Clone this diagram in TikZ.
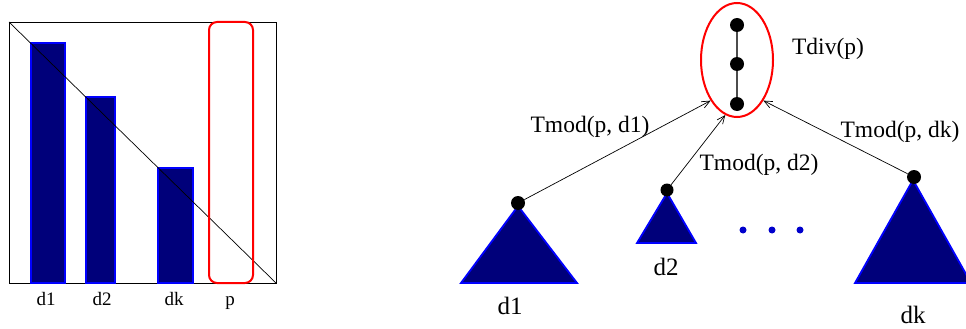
\documentclass[tikz,border=0pt]{standalone}
\usepackage{fontspec}
\setmainfont{Liberation Serif}
\usetikzlibrary{arrows.meta,positioning,shapes.geometric}
\definecolor{barnavy}{RGB}{0,0,122}
\tikzset{
  bar/.style={fill=barnavy,draw=blue,line width=1.4pt},
  subtree/.style={fill=barnavy,draw=blue,line width=1.8pt,line join=miter},
  knot/.style={circle,fill=black,inner sep=0pt,minimum size=14pt},
  moredot/.style={circle,fill=blue!80!black,inner sep=0pt,minimum size=7pt},
  collbl/.style={inner sep=0pt,anchor=base,font=\fontsize{19}{22}\selectfont},
  edgelbl/.style={inner sep=0pt,anchor=base,font=\fontsize{23.5}{27}\selectfont},
  treelbl/.style={inner sep=0pt,font=\fontsize{25}{29}\selectfont},
}

\begin{document}
\begin{tikzpicture}[x=1pt,y=-1pt,>={Straight Barb[length=8pt,width=7pt]}]
\clip (0,0) rectangle (966,329);
% left: columns of the matrix
\draw[line width=0.9pt] (9,22) rectangle (276,283);
\draw[bar] (31,43) rectangle (65,283);
\draw[bar] (86,97) rectangle (115,283);
\draw[bar] (158,168) rectangle (193,283);
\draw[line width=0.7pt] (9,22) -- (276,283);
\draw[red,line width=2pt,rounded corners=8pt] (209,22) rectangle (253,283);
\node[collbl] (cd1) at (46,305) {d1};
\node[collbl] (cd2) at (102,305) {d2};
\node[collbl] (cdk) at (174,305) {dk};
\node[collbl] (cp) at (230,305) {p};

% right: the tree
\node[draw=red,line width=2pt,ellipse,minimum width=72pt,minimum height=114pt,inner sep=0pt] (tdiv) at (737,60) {};
\node[knot] (k1) at (737,25) {};
\node[knot] (k2) at (737,64) {};
\node[knot] (k3) at (737,104) {};
\draw[gray!60!black,line width=1.1pt] (k1) -- (k2) -- (k3);
\node[edgelbl] (ldiv) at (828,55) {Tdiv(p)};

\draw[subtree] (461,283) -- (518,206) -- (577,283) -- cycle;
\draw[subtree] (637,243) -- (667,193) -- (696,243) -- cycle;
\draw[subtree] (855,283) -- (913,180) -- (971,283) -- cycle;
\node[knot] (r1) at (518,203) {};
\node[knot,minimum size=13pt] (r2) at (667,190) {};
\node[knot] (rk) at (914,177) {};

\foreach \x [count=\i] in {743,772,800}
  \node[moredot] (e\i) at (\x,230) {};

\draw[->,line width=0.7pt] (r1) -- (tdiv.237);
\draw[->,line width=0.7pt] (r2) -- (tdiv.258);
\draw[->,line width=0.7pt] (rk) -- (tdiv.303);
\node[edgelbl] (m1) at (590,132) {Tmod(p, d1)};
\node[edgelbl] (m2) at (759,170) {Tmod(p, d2)};
\node[edgelbl] (mk) at (900,137) {Tmod(p, dk)};

\node[treelbl] (t1) at (510,306) {d1};
\node[treelbl] (t2) at (666,267) {d2};
\node[treelbl] (tk) at (913,315) {dk};
\end{tikzpicture}
\end{document}
